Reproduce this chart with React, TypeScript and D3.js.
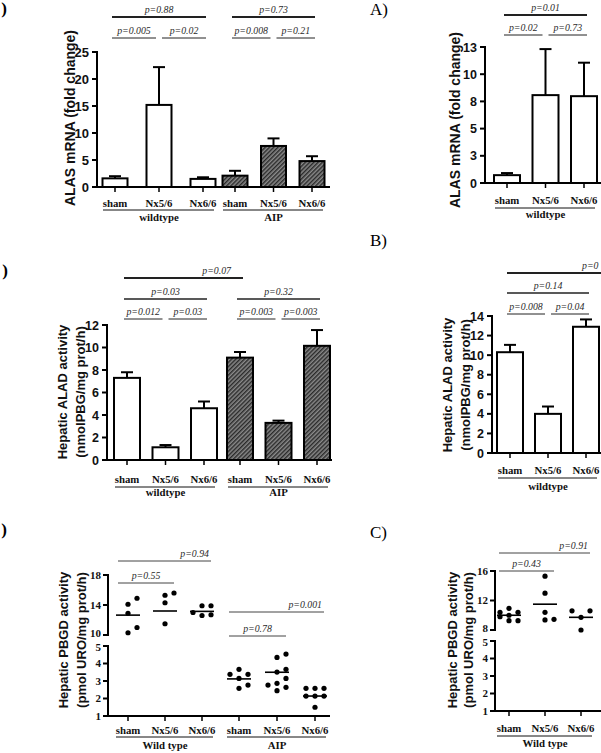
import React from "react";
import * as d3 from "d3";

const W = 601;
const H = 753;
const SANS = "'Liberation Sans', Arial, Helvetica, sans-serif";
const SERIF = "'Liberation Serif', 'Times New Roman', Times, serif";

const CATEGORIES = ["sham", "Nx5/6", "Nx6/6"];

// ---------- A) ALAS mRNA (left: wildtype + AIP)
const alasLeftGroups = ["wildtype", "AIP"];
const alasLeftMean = [1.6, 15.2, 1.5, 2.1, 7.6, 4.8];
const alasLeftUpper = [2.0, 22.2, 1.8, 3.0, 9.0, 5.7];
const alasLeftTicks = [0, 5, 10, 15, 20, 25];
const alasLeftTickLabels = ["0", "5", "10", "15", "20", "25"];
const alasLeftP = ["p=0.88", "p=0.005", "p=0.02", "p=0.73", "p=0.008", "p=0.21"];
const alasLeftPairs = [[0, 2], [0, 1], [1, 2], [3, 5], [3, 4], [4, 5]];

// ---------- A) ALAS mRNA (right: wildtype)
const alasRightGroups = ["wildtype"];
const alasRightMean = [0.75, 8.4, 8.3];
const alasRightUpper = [0.95, 12.8, 11.5];
const alasRightTicks = [0, 2.6, 5.2, 7.8, 10.4, 13];
const alasRightTickLabels = ["0", "3", "5", "8", "10", "13"];
const alasRightP = ["p=0.01", "p=0.02", "p=0.73"];
const alasRightPairs = [[0, 2], [0, 1], [1, 2]];

// ---------- B) ALAD activity (left)
const aladLeftGroups = ["wildtype", "AIP"];
const aladLeftMean = [7.3, 1.13, 4.6, 9.1, 3.3, 10.15];
const aladLeftUpper = [7.8, 1.33, 5.2, 9.6, 3.5, 11.55];
const aladLeftTicks = [0, 2, 4, 6, 8, 10, 12];
const aladLeftTickLabels = ["0", "2", "4", "6", "8", "10", "12"];
const aladLeftP = ["p=0.07", "p=0.03", "p=0.32", "p=0.012", "p=0.03", "p=0.003", "p=0.003"];
const aladLeftPairs = [[0, 3], [0, 2], [3, 5], [0, 1], [1, 2], [3, 4], [4, 5]];

// ---------- B) ALAD activity (right)
const aladRightGroups = ["wildtype"];
const aladRightMean = [10.3, 4.0, 12.9];
const aladRightUpper = [11.05, 4.75, 13.65];
const aladRightTicks = [0, 2, 4, 6, 8, 10, 12, 14];
const aladRightTickLabels = ["0", "2", "4", "6", "8", "10", "12", "14"];
const aladRightP = ["p=0", "p=0.14", "p=0.008", "p=0.04"];
const aladRightPairs = [[0, 3], [0, 2], [0, 1], [1, 2]];

// ---------- C) PBGD activity (left)
const pbgdLeftGroups = ["Wild type", "AIP"];
const pbgdLeftValues = [
  [14.9, 14.1, 12.9, 11.0, 10.3],
  [15.6, 15.3, 14.3, 11.5],
  [13.9, 13.9, 13.0, 12.7, 12.6],
  [3.67, 3.38, 3.38, 3.15, 2.77, 2.58],
  [5.06, 4.54, 4.35, 3.67, 3.15, 2.87, 2.77, 2.64, 2.45],
  [2.58, 2.58, 2.58, 2.14, 2.14, 2.14, 1.5],
];
const pbgdLeftMeans = [12.65, 13.2, 13.15, 3.12, 3.5, 2.14];
const pbgdLeftUpperTicks = [10, 14, 18];
const pbgdLowerTicks = [1, 2, 3, 4, 5];
const pbgdLeftP = ["p=0.94", "p=0.55", "p=0.001", "p=0.78"];
const pbgdLeftPairs = [[0, 2], [0, 1], [3, 5], [3, 4]];

// ---------- C) PBGD activity (right)
const pbgdRightGroups = ["Wild type"];
const pbgdRightValues = [
  [10.94, 10.4, 10.4, 10.0, 9.8, 9.26, 9.26],
  [15.3, 13.0, 10.4, 9.45, 9.36],
  [10.6, 10.6, 9.72, 8.0],
];
const pbgdRightMeans = [10.0, 11.5, 9.72];
const pbgdRightUpperTicks = [8, 12, 16];
const pbgdRightP = ["p=0.91", "p=0.43"];
const pbgdRightPairs = [[0, 2], [0, 1]];

// ---------------------------------------------------------------

type Common = {
  axisX: number;
  xEnd: number;
  groupRanges: [number, number][];
  pLineY: number[];
  pWidth: number[];
  pAlign: string[];
  pColor: string;
  padL: number;
  padR: number;
  innerGap: boolean;
  endInset: number;
  startInset: number;
  catY: number;
  underY: number;
  groupY: number;
  titleX: number[];
  titleY: number;
  titleFont: number;
  tickFont: number;
};

function catX(L: Common, i: number): number {
  const g = Math.floor(i / 3);
  const k = i % 3;
  const n = L.groupRanges.length;
  if (g >= n) {
    const r = L.groupRanges[n - 1];
    const step = (r[1] - r[0]) / 2;
    return r[1] + step * (k + 1 + (g - n) * 3);
  }
  const s = d3.scalePoint<string>().domain(CATEGORIES).range(L.groupRanges[g]);
  return s(CATEGORIES[k]) as number;
}

function PAnnotations({ L, labels, pairs }: { L: Common; labels: string[]; pairs: number[][] }) {
  return (
    <g>
      {pairs.map(([a, b], i) => {
        const xa = catX(L, a);
        const xb = catX(L, b);
        const adj = b - a === 1 && L.innerGap;
        let x1 = xa - L.padL;
        let x2 = xb + L.padR;
        if (adj && a % 3 === 1) x1 = xa + 3;
        if (adj && b % 3 === 1) x2 = xb - 3;
        const y = L.pLineY[i];
        const al = L.pAlign[i];
        let tx = (x1 + x2) / 2;
        let anchor = "middle";
        if (al === "end") {
          tx = x2 - L.endInset;
          anchor = "end";
        } else if (al === "start") {
          tx = x1 + L.startInset;
          anchor = "start";
        }
        return (
          <g key={i}>
            <line x1={x1} x2={Math.min(x2, W)} y1={y} y2={y} stroke={L.pColor} strokeWidth={L.pWidth[i]} />
            <text
              x={tx}
              y={y - 4}
              textAnchor={anchor}
              fontFamily={SERIF}
              fontStyle="italic"
              fontSize={9.8}
              fill="#2a2a2a"
            >
              {labels[i]}
            </text>
          </g>
        );
      })}
    </g>
  );
}

function CategoryLabels({ L, groups, n }: { L: Common; groups: string[]; n: number }) {
  return (
    <g fontFamily={SERIF} fontWeight="bold" fontSize={10.8} fill="#111">
      {d3.range(n).map((i) => (
        <text key={"c" + i} x={catX(L, i)} y={L.catY} textAnchor="middle">
          {CATEGORIES[i % 3]}
        </text>
      ))}
      {groups.map((g, gi) => {
        const x1 = catX(L, gi * 3) - 12;
        const x2 = catX(L, gi * 3 + 2) + 11;
        return (
          <g key={"g" + gi}>
            <line x1={x1} x2={x2} y1={L.underY} y2={L.underY} stroke="#111" strokeWidth={1} />
            <text x={catX(L, gi * 3 + 1)} y={L.groupY} textAnchor="middle">
              {g}
            </text>
          </g>
        );
      })}
    </g>
  );
}

function Title({ L, lines }: { L: Common; lines: string[] }) {
  return (
    <g fontFamily={SANS} fontWeight="bold" fontSize={L.titleFont} fill="#111">
      {lines.map((t, i) => (
        <text key={i} transform={`translate(${L.titleX[i]},${L.titleY}) rotate(-90)`} textAnchor="middle">
          {t}
        </text>
      ))}
    </g>
  );
}

type BarLayout = Common & { y0: number; yTop: number; barW: number };

function BarPanel(props: {
  L: BarLayout;
  means: number[];
  uppers: number[];
  groups: string[];
  ticks: number[];
  tickLabels: string[];
  pLabels: string[];
  pPairs: number[][];
  title: string[];
}) {
  const { L, means, uppers, groups, ticks, tickLabels, pLabels, pPairs, title } = props;
  const y = d3
    .scaleLinear()
    .domain([ticks[0], ticks[ticks.length - 1]])
    .range([L.y0, L.yTop]);
  const n = means.length;
  return (
    <g>
      {means.map((v, i) => {
        const cx = catX(L, i);
        const hatched = Math.floor(i / 3) === 1;
        return (
          <g key={i}>
            <line x1={cx} x2={cx} y1={y(v)} y2={y(uppers[i])} stroke="#000" strokeWidth={2} />
            <line x1={cx - 6} x2={cx + 6} y1={y(uppers[i])} y2={y(uppers[i])} stroke="#000" strokeWidth={2} />
            <rect
              x={cx - L.barW / 2}
              y={y(v)}
              width={L.barW}
              height={y(ticks[0]) - y(v)}
              fill={hatched ? "url(#hatch)" : "#fff"}
              stroke="#000"
              strokeWidth={2}
            />
          </g>
        );
      })}
      <line x1={L.axisX} x2={L.axisX} y1={L.y0 + 1} y2={L.yTop - 1} stroke="#000" strokeWidth={2} />
      {ticks.map((t, i) => (
        <g key={i}>
          <line x1={L.axisX - 5} x2={L.axisX} y1={y(t)} y2={y(t)} stroke="#000" strokeWidth={2} />
          <text
            x={L.axisX - 8}
            y={y(t)}
            dy="0.36em"
            textAnchor="end"
            fontFamily={SANS}
            fontWeight="bold"
            fontSize={L.tickFont}
            fill="#111"
          >
            {tickLabels[i]}
          </text>
        </g>
      ))}
      <line x1={L.axisX - 1} x2={L.xEnd} y1={L.y0} y2={L.y0} stroke="#000" strokeWidth={2} />
      {d3.range(n).map((i) => (
        <line key={i} x1={catX(L, i)} x2={catX(L, i)} y1={L.y0} y2={L.y0 + 5} stroke="#000" strokeWidth={1.5} />
      ))}
      <CategoryLabels L={L} groups={groups} n={n} />
      <PAnnotations L={L} labels={pLabels} pairs={pPairs} />
      <Title L={L} lines={title} />
    </g>
  );
}

type ScatterLayout = Common & { upperRange: [number, number]; lowerRange: [number, number] };

function swarm(ys: number[], step: number, thr: number): number[] {
  const order = d3.range(ys.length).sort((i, j) => ys[j] - ys[i]);
  const placed: { x: number; y: number }[] = [];
  const out: number[] = new Array(ys.length).fill(0);
  const cands = [0, step, -step];
  for (const i of order) {
    let chosen: number | null = null;
    let best = 0;
    let bestD = -1;
    for (const c of cands) {
      const same = placed.filter((p) => p.x === c);
      const dmin = same.length ? (d3.min(same, (p) => Math.abs(p.y - ys[i])) as number) : Infinity;
      if (dmin >= thr) {
        chosen = c;
        break;
      }
      if (dmin > bestD) {
        bestD = dmin;
        best = c;
      }
    }
    const x = chosen === null ? best : chosen;
    placed.push({ x, y: ys[i] });
    out[i] = x;
  }
  return out;
}

function ScatterPanel(props: {
  L: ScatterLayout;
  values: number[][];
  means: number[];
  groups: string[];
  upperTicks: number[];
  lowerTicks: number[];
  pLabels: string[];
  pPairs: number[][];
  title: string[];
}) {
  const { L, values, means, groups, upperTicks, lowerTicks, pLabels, pPairs, title } = props;
  const yU = d3
    .scaleLinear()
    .domain([upperTicks[0], upperTicks[upperTicks.length - 1]])
    .range(L.upperRange);
  const yL = d3
    .scaleLinear()
    .domain([lowerTicks[0], lowerTicks[lowerTicks.length - 1]])
    .range(L.lowerRange);
  const lowMax = lowerTicks[lowerTicks.length - 1];
  const yv = (v: number) => (v > lowMax ? yU(v) : yL(v));
  const n = values.length;
  const tickLabel = (t: number, s: (v: number) => number, dy: string) => (
    <g key={t}>
      <line x1={L.axisX - 5} x2={L.axisX} y1={s(t)} y2={s(t)} stroke="#000" strokeWidth={2} />
      <text
        x={L.axisX - 7}
        y={s(t)}
        dy={dy}
        textAnchor="end"
        fontFamily={SERIF}
        fontWeight="bold"
        fontSize={L.tickFont}
        fill="#111"
      >
        {t}
      </text>
    </g>
  );
  return (
    <g>
      {values.map((vals, i) => {
        const cx = catX(L, i);
        const ys = vals.map(yv);
        const offs = swarm(ys, 9, 7.5);
        const my = yv(means[i]);
        return (
          <g key={i}>
            {ys.map((yy, j) => (
              <circle key={j} cx={cx + offs[j]} cy={yy} r={2.6} fill="#000" />
            ))}
            <line x1={cx - 12} x2={cx + 12} y1={my} y2={my} stroke="#000" strokeWidth={1.6} />
          </g>
        );
      })}
      <line x1={L.axisX} x2={L.axisX} y1={L.upperRange[0] + 1} y2={L.upperRange[1] - 1} stroke="#000" strokeWidth={2} />
      <line x1={L.axisX} x2={L.axisX} y1={L.lowerRange[0] + 1} y2={L.lowerRange[1] - 1} stroke="#000" strokeWidth={2} />
      {upperTicks.map((t, i) => tickLabel(t, yU, i === 0 ? "0.2em" : "0.35em"))}
      {lowerTicks.map((t, i) => tickLabel(t, yL, i === lowerTicks.length - 1 ? "0.45em" : "0.35em"))}
      <line x1={L.axisX - 1} x2={L.xEnd} y1={L.lowerRange[0]} y2={L.lowerRange[0]} stroke="#000" strokeWidth={2} />
      {d3.range(n).map((i) => (
        <line
          key={i}
          x1={catX(L, i)}
          x2={catX(L, i)}
          y1={L.lowerRange[0]}
          y2={L.lowerRange[0] + 5}
          stroke="#000"
          strokeWidth={1.5}
        />
      ))}
      <CategoryLabels L={L} groups={groups} n={n} />
      <PAnnotations L={L} labels={pLabels} pairs={pPairs} />
      <Title L={L} lines={title} />
    </g>
  );
}

// ---------------- layouts
const barBase = {
  pColor: "#222",
  padL: 3,
  padR: 3,
  innerGap: true,
  endInset: 12,
  startInset: 75,
};

const layoutA1: BarLayout = {
  ...barBase,
  axisX: 97,
  xEnd: 330,
  y0: 187,
  yTop: 52,
  barW: 25,
  groupRanges: [
    [115, 203],
    [235, 312],
  ],
  pLineY: [17, 38, 38, 17, 38, 38],
  pWidth: [2, 1, 1, 2, 1, 1],
  pAlign: ["middle", "middle", "middle", "middle", "middle", "middle"],
  catY: 207,
  underY: 210,
  groupY: 221,
  titleX: [75],
  titleY: 118,
  titleFont: 14,
  tickFont: 13,
};

const layoutA2: BarLayout = {
  ...barBase,
  axisX: 485,
  xEnd: 601,
  y0: 183,
  yTop: 47,
  barW: 26,
  groupRanges: [[507, 584]],
  pLineY: [15, 35, 35],
  pWidth: [2, 1, 1],
  pAlign: ["middle", "middle", "middle"],
  catY: 204,
  underY: 208,
  groupY: 218,
  titleX: [460],
  titleY: 120,
  titleFont: 14,
  tickFont: 12.5,
};

const layoutB1: BarLayout = {
  ...barBase,
  axisX: 107,
  xEnd: 332,
  y0: 460,
  yTop: 325,
  barW: 26,
  groupRanges: [
    [127, 204],
    [240, 317],
  ],
  pLineY: [278, 299, 299, 319, 319, 319, 319],
  pWidth: [2, 1.5, 1.5, 1, 1, 1, 1],
  pAlign: ["end", "middle", "middle", "middle", "middle", "middle", "middle"],
  catY: 483,
  underY: 487,
  groupY: 496,
  titleX: [66.5, 84.5],
  titleY: 392,
  titleFont: 13,
  tickFont: 12.5,
};

const layoutB2: BarLayout = {
  ...barBase,
  axisX: 492,
  xEnd: 601,
  y0: 453,
  yTop: 316,
  barW: 26,
  groupRanges: [[510, 586]],
  pLineY: [273, 293, 314, 314],
  pWidth: [2, 1.5, 1, 1],
  pAlign: ["start", "middle", "middle", "middle"],
  catY: 474,
  underY: 478,
  groupY: 490,
  titleX: [451.5, 469.5],
  titleY: 385,
  titleFont: 13,
  tickFont: 12.5,
};

const scatterBase = {
  pColor: "#444",
  padL: 10,
  padR: 9,
  innerGap: false,
  endInset: 2,
  startInset: 0,
};

const layoutC1: ScatterLayout = {
  ...scatterBase,
  axisX: 108,
  xEnd: 330,
  upperRange: [635, 575],
  lowerRange: [716, 646],
  groupRanges: [
    [128, 202],
    [239, 315],
  ],
  pLineY: [561, 583, 612, 636],
  pWidth: [1, 1, 1, 1],
  pAlign: ["end", "middle", "end", "middle"],
  catY: 734,
  underY: 737,
  groupY: 749,
  titleX: [67.5, 85.5],
  titleY: 640,
  titleFont: 13,
  tickFont: 11,
};

const layoutC2: ScatterLayout = {
  ...scatterBase,
  axisX: 495,
  xEnd: 601,
  upperRange: [630, 571],
  lowerRange: [711, 641],
  groupRanges: [[509, 581]],
  pLineY: [553, 571],
  pWidth: [1, 1],
  pAlign: ["end", "middle"],
  catY: 732,
  underY: 736,
  groupY: 747,
  titleX: [456.5, 472.5],
  titleY: 640,
  titleFont: 13,
  tickFont: 11,
};

export default function App() {
  return (
    <svg
      width={W}
      height={H}
      viewBox={`0 0 ${W} ${H}`}
      style={{ position: "absolute", left: 0, top: 0, background: "#fff" }}
    >
      <defs>
        <pattern id="hatch" patternUnits="userSpaceOnUse" width="3" height="3" patternTransform="rotate(45)">
          <rect width="3" height="3" fill="#8a8a8a" />
          <line x1="0.7" y1="0" x2="0.7" y2="3" stroke="#2a2a2a" strokeWidth="1.5" />
        </pattern>
      </defs>
      <rect width={W} height={H} fill="#fff" />

      {/* panel letters (left ones are cut by the page edge: only the bracket is visible) */}
      <g fontFamily={SERIF} fontWeight="bold" fontSize={17} fill="#000">
        <text x={7} y={14} textAnchor="end">)</text>
        <text x={8} y={276} textAnchor="end">)</text>
        <text x={7} y={535} textAnchor="end">)</text>
      </g>
      <g fontFamily={SERIF} fontSize={17} fill="#000">
        <text x={370} y={15}>A)</text>
        <text x={370} y={246}>B)</text>
        <text x={370} y={538}>C)</text>
      </g>

      <BarPanel
        L={layoutA1}
        means={alasLeftMean}
        uppers={alasLeftUpper}
        groups={alasLeftGroups}
        ticks={alasLeftTicks}
        tickLabels={alasLeftTickLabels}
        pLabels={alasLeftP}
        pPairs={alasLeftPairs}
        title={["ALAS mRNA (fold change)"]}
      />
      <BarPanel
        L={layoutA2}
        means={alasRightMean}
        uppers={alasRightUpper}
        groups={alasRightGroups}
        ticks={alasRightTicks}
        tickLabels={alasRightTickLabels}
        pLabels={alasRightP}
        pPairs={alasRightPairs}
        title={["ALAS mRNA (fold change)"]}
      />
      <BarPanel
        L={layoutB1}
        means={aladLeftMean}
        uppers={aladLeftUpper}
        groups={aladLeftGroups}
        ticks={aladLeftTicks}
        tickLabels={aladLeftTickLabels}
        pLabels={aladLeftP}
        pPairs={aladLeftPairs}
        title={["Hepatic ALAD activity", "(nmolPBG/mg prot/h)"]}
      />
      <BarPanel
        L={layoutB2}
        means={aladRightMean}
        uppers={aladRightUpper}
        groups={aladRightGroups}
        ticks={aladRightTicks}
        tickLabels={aladRightTickLabels}
        pLabels={aladRightP}
        pPairs={aladRightPairs}
        title={["Hepatic ALAD activity", "(nmolPBG/mg prot/h)"]}
      />
      <ScatterPanel
        L={layoutC1}
        values={pbgdLeftValues}
        means={pbgdLeftMeans}
        groups={pbgdLeftGroups}
        upperTicks={pbgdLeftUpperTicks}
        lowerTicks={pbgdLowerTicks}
        pLabels={pbgdLeftP}
        pPairs={pbgdLeftPairs}
        title={["Hepatic PBGD activity", "(pmol URO/mg prot/h)"]}
      />
      <ScatterPanel
        L={layoutC2}
        values={pbgdRightValues}
        means={pbgdRightMeans}
        groups={pbgdRightGroups}
        upperTicks={pbgdRightUpperTicks}
        lowerTicks={pbgdLowerTicks}
        pLabels={pbgdRightP}
        pPairs={pbgdRightPairs}
        title={["Hepatic PBGD activity", "(pmol URO/mg prot/h)"]}
      />
    </svg>
  );
}
